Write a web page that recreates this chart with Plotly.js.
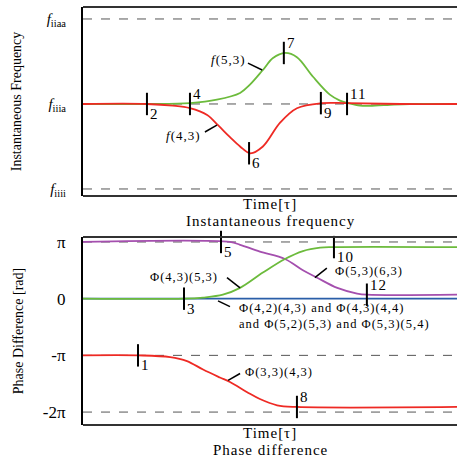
<!DOCTYPE html>
<html>
<head>
<meta charset="utf-8">
<script src="https://cdn.plot.ly/plotly-3.0.1.min.js"></script>
<style>
html,body{margin:0;padding:0;background:#fff;}
#chart{width:457px;height:459px;}
.annotation-text{letter-spacing:1px;}
</style>
</head>
<body>
<div id="chart"></div>
<script>
// ---- data (time in arbitrary units 0..100) ----
// Instantaneous frequency (normalised: fiiii=-1, fiiia=0, fiiaa=1)
const t_f43 = [0, 17.1, 24, 28.6, 33.2, 36.1, 39.3, 42, 44.7, 48.1, 52.7, 57.2, 63.9, 70.6, 85, 100];
const f43   = [0, 0, -0.02, -0.05, -0.13, -0.25, -0.39, -0.5, -0.58, -0.5, -0.22, -0.05, 0.01, 0.01, 0, 0];
const t_f53 = [0, 17.1, 28.6, 35.8, 42, 44.7, 48.1, 50.8, 54, 57.2, 61.5, 66, 68.7, 70.9, 74.1, 78.1, 82.1, 87.4, 100];
const f53   = [0, 0, 0.01, 0.05, 0.13, 0.23, 0.4, 0.54, 0.6, 0.55, 0.32, 0.11, 0.04, 0.01, -0.02, -0.02, -0.01, 0, 0];
const freqTickVals = [1, 0, -1];
const freqTickText = ['<i>f</i><sub>iiaa</sub>', '<i>f</i><sub>iiia</sub>', '<i>f</i><sub>iiii</sub>'];

// Phase differences (units of π)
const t_p5363 = [0, 39.3, 42, 47.3, 54, 58.8, 62.6, 68, 73.3, 75.9, 100];
const p5363   = [1, 1, 0.95, 0.83, 0.7, 0.5, 0.37, 0.19, 0.09, 0.07, 0.07];
const t_p4353 = [0, 27, 32.1, 37.4, 42, 48.1, 54, 58.8, 63.4, 66.8, 100];
const p4353   = [0, 0, 0.02, 0.07, 0.19, 0.46, 0.7, 0.84, 0.9, 0.91, 0.91];
const t_pZero = [0, 100];
const pZero   = [0, 0];
const t_p3343 = [0, 14.7, 23.3, 27.8, 32.1, 36.6, 39.3, 43.9, 47.3, 51.9, 57.2, 100];
const p3343   = [-1, -1, -1.03, -1.1, -1.25, -1.39, -1.47, -1.65, -1.77, -1.88, -1.91, -1.91];
const phaseTickVals = [1, 0, -1, -2];
const phaseTickText = ['π', '0', '-π', '-2π'];

// event markers (side: +1 label above the mark, -1 below)
const evTopT    = [17.1, 28.6, 44.4, 53.7, 63.6, 70.6];
const evTopV    = [0, 0, -0.58, 0.6, 0.01, 0];
const evTopLbl  = ['2', '4', '6', '7', '9', '11'];
const evTopSide = [-1, 1, -1, 1, -1, 1];
const evBotT    = [14.7, 27, 36.9, 57.2, 67.1, 75.9];
const evBotV    = [-1, 0, 1, -1.91, 0.91, 0.07];
const evBotLbl  = ['1', '3', '5', '8', '10', '12'];
const evBotSide = [-1, -1, -1, 1, -1, 1];

const SERIF = '"Liberation Serif", "Times New Roman", serif';
const RED = '#ee2a24', GREEN = '#6cbb3c', PURPLE = '#a44fae', BLUE = '#2a5ea8';

function line(x, y, color, xa, ya) {
  return {x: x, y: y, xaxis: xa, yaxis: ya, mode: 'lines', type: 'scatter',
          line: {color: color, width: 1.8, shape: 'spline', smoothing: 1}, hoverinfo: 'skip'};
}
function events(x, y, xa, ya) {
  return {x: x, y: y, xaxis: xa, yaxis: ya, mode: 'markers', type: 'scatter', cliponaxis: false,
          marker: {symbol: 'line-ns', size: 16, line: {color: '#000', width: 2}}, hoverinfo: 'skip'};
}

const data = [
  line(t_f53, f53, GREEN, 'x', 'y'),
  line(t_f43, f43, RED, 'x', 'y'),
  events(evTopT, evTopV, 'x', 'y'),
  line(t_pZero, pZero, BLUE, 'x2', 'y2'),
  line(t_p5363, p5363, PURPLE, 'x2', 'y2'),
  line(t_p4353, p4353, GREEN, 'x2', 'y2'),
  line(t_p3343, p3343, RED, 'x2', 'y2'),
  events(evBotT, evBotV, 'x2', 'y2')
];

function hdash(y, xa, ya) {
  return {type: 'line', xref: xa + ' domain', yref: ya, x0: 0, x1: 1, y0: y, y1: y,
          line: {color: '#555', width: 1, dash: 'dash'}, layer: 'below'};
}
function border(ya, pos) {
  return {type: 'line', xref: 'paper', yref: ya + ' domain', x0: 0, x1: 1, y0: pos, y1: pos,
          line: {color: '#333', width: 2}};
}
function seg(xa, ya, x0, y0, x1, y1) {
  return {type: 'line', xref: xa, yref: ya, x0: x0, y0: y0, x1: x1, y1: y1, line: {color: '#000', width: 1.5}};
}

const shapes = [
  hdash(1, 'x', 'y'), hdash(0, 'x', 'y'), hdash(-1, 'x', 'y'),
  hdash(1, 'x2', 'y2'), hdash(-1, 'x2', 'y2'), hdash(-2, 'x2', 'y2'),
  border('y', 1), border('y', 0), border('y2', 1), border('y2', 0),
  seg('x', 'y', 44.1, 0.48, 47.9, 0.40),
  seg('x', 'y', 32.6, -0.33, 35.8, -0.25),
  seg('x2', 'y2', 38.5, 0.37, 42, 0.19),
  seg('x2', 'y2', 65.2, 0.54, 62, 0.37),
  seg('x2', 'y2', 36.1, -0.04, 39.3, -0.14),
  seg('x2', 'y2', 42, -1.32, 38.8, -1.44)
];

function ann(text, x, y, xa, ya, size, xanchor) {
  return {text: text, x: x, y: y, xref: xa, yref: ya, showarrow: false, align: 'left',
          xanchor: xanchor || 'center', yanchor: 'middle', font: {family: SERIF, size: size, color: '#000'}};
}
const annotations = [
  ann('<i>f</i>(5,3)', 38.8, 0.52, 'x', 'y', 13),
  ann('<i>f</i>(4,3)', 26.9, -0.365, 'x', 'y', 13),
  ann('Φ(4,3)(5,3)', 17.4, 0.39, 'x2', 'y2', 12.5, 'left'),
  ann('Φ(5,3)(6,3)', 66.8, 0.49, 'x2', 'y2', 12.5, 'left'),
  ann('Φ(4,2)(4,3) and Φ(4,3)(4,4)<br>and Φ(5,2)(5,3) and Φ(5,3)(5,4)', 41.2, -0.305, 'x2', 'y2', 12.5, 'left'),
  ann('Φ(3,3)(4,3)', 42.8, -1.3, 'x2', 'y2', 12.5, 'left')
];
// event number labels next to the marks
function evLabels(ts, vs, lbls, sides, xa, ya) {
  ts.forEach((t, i) => {
    const a = ann(lbls[i], t, vs[i], xa, ya, 15, 'left');
    a.xshift = 1; a.yshift = sides[i] * 10;
    annotations.push(a);
  });
}
evLabels(evTopT, evTopV, evTopLbl, evTopSide, 'x', 'y');
evLabels(evBotT, evBotV, evBotLbl, evBotSide, 'x2', 'y2');

// axis captions (pixel rows converted to paper coords)
const M = {l: 83, r: 0, t: 7, b: 34};
const PH = 459 - M.t - M.b;
function caption(text, row, size) {
  annotations.push({text: text, x: 0.5, y: (459 - M.b - row) / PH, xref: 'paper', yref: 'paper',
                    showarrow: false, yanchor: 'middle', font: {family: SERIF, size: size, color: '#000'}});
}
caption('Time[τ]', 204, 15);
caption('Instantaneous frequency', 221, 15);
caption('Time[τ]', 433, 15);
caption('Phase difference', 450, 15);

const axX = {range: [0, 100], showticklabels: false, ticks: '', showgrid: false, zeroline: false, showline: false};
const layout = {
  width: 457, height: 459, margin: M, showlegend: false,
  paper_bgcolor: '#fff', plot_bgcolor: '#fff',
  font: {family: SERIF, color: '#000'},
  xaxis: Object.assign({anchor: 'y'}, axX),
  xaxis2: Object.assign({anchor: 'y2'}, axX),
  yaxis: {domain: [0.548, 1], range: [-1.082, 1.141], anchor: 'x', tickmode: 'array',
          tickvals: freqTickVals, ticktext: freqTickText, ticks: '', showgrid: false, zeroline: false,
          showline: true, linecolor: '#000', linewidth: 2, ticklabelstandoff: 12,
          tickfont: {family: SERIF, size: 15},
          title: {text: 'Instantaneous Frequency', font: {family: SERIF, size: 14}, standoff: 22}},
  yaxis2: {domain: [0, 0.4498], range: [-2.228, 1.088], anchor: 'x2', tickmode: 'array',
          tickvals: phaseTickVals, ticktext: phaseTickText, ticks: '', showgrid: false, zeroline: false,
          showline: true, linecolor: '#000', linewidth: 2, ticklabelstandoff: 12,
          tickfont: {family: SERIF, size: 17},
          title: {text: 'Phase Difference [rad]', font: {family: SERIF, size: 14}, standoff: 16}},
  shapes: shapes,
  annotations: annotations
};
Plotly.newPlot('chart', data, layout, {displayModeBar: false, staticPlot: true});
</script>
</body>
</html>
